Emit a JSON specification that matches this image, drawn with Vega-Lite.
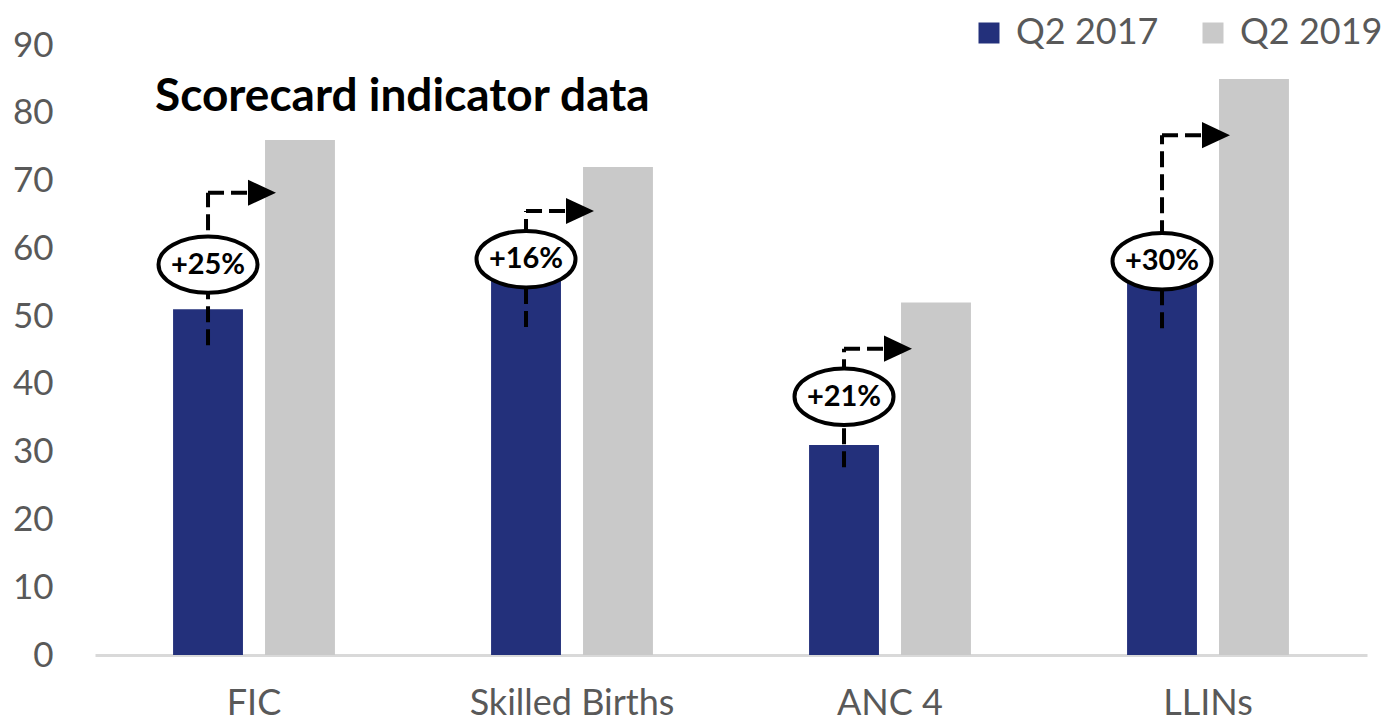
{
  "$schema": "https://vega.github.io/schema/vega-lite/v6.json",
  "width": 1272,
  "height": 610,
  "autosize": {"type": "none"},
  "padding": {"left": 95, "top": 45, "right": 14, "bottom": 69},
  "background": "white",
  "config": {"view": {"stroke": null}, "font": "Lato"},
  "title": {
    "text": "Scorecard indicator data",
    "anchor": "start",
    "frame": "group",
    "dx": 60,
    "dy": 110,
    "fontSize": 46,
    "fontWeight": "bold",
    "color": "black",
    "font": "Lato"
  },
  "datasets": {
    "bars": [
      {"indicator": "FIC", "period": "Q2 2017", "value": 51},
      {"indicator": "FIC", "period": "Q2 2019", "value": 76},
      {"indicator": "Skilled Births", "period": "Q2 2017", "value": 56},
      {"indicator": "Skilled Births", "period": "Q2 2019", "value": 72},
      {"indicator": "ANC 4", "period": "Q2 2017", "value": 31},
      {"indicator": "ANC 4", "period": "Q2 2019", "value": 52},
      {"indicator": "LLINs", "period": "Q2 2017", "value": 55},
      {"indicator": "LLINs", "period": "Q2 2019", "value": 85}
    ],
    "notes": [
      {"indicator": "FIC", "change": "+25%", "low": 45.7, "high": 68.2, "badge": 57.6},
      {"indicator": "Skilled Births", "change": "+16%", "low": 48.4, "high": 65.5, "badge": 58.4},
      {"indicator": "ANC 4", "change": "+21%", "low": 27.7, "high": 45.2, "badge": 38.1},
      {"indicator": "LLINs", "change": "+30%", "low": 48.2, "high": 76.7, "badge": 58.1}
    ]
  },
  "encoding": {
    "x": {
      "field": "indicator",
      "type": "nominal",
      "sort": ["FIC", "Skilled Births", "ANC 4", "LLINs"],
      "scale": {"paddingInner": 0.491, "paddingOuter": 0.2455},
      "axis": {
        "title": null,
        "labelAngle": 0,
        "ticks": false,
        "domainColor": "#d9d9d9",
        "domainWidth": 3,
        "labelFontSize": 36,
        "labelColor": "#595959",
        "labelPadding": 31,
        "labelLimit": 600
      }
    }
  },
  "layer": [
    {
      "data": {"name": "bars"},
      "mark": {"type": "bar"},
      "encoding": {
        "xOffset": {
          "field": "period",
          "type": "nominal",
          "scale": {"paddingInner": 0.24, "paddingOuter": 0}
        },
        "y": {
          "field": "value",
          "type": "quantitative",
          "scale": {"domain": [0, 90], "nice": false},
          "axis": {
            "title": null,
            "values": [0, 10, 20, 30, 40, 50, 60, 70, 80, 90],
            "domain": false,
            "ticks": false,
            "grid": false,
            "labelFontSize": 35,
            "labelColor": "#595959",
            "labelPadding": 42
          }
        },
        "color": {
          "field": "period",
          "type": "nominal",
          "scale": {"range": ["#23307b", "#c9c9c9"]},
          "legend": {
            "title": null,
            "orient": "none",
            "direction": "horizontal",
            "legendX": 876,
            "legendY": -30,
            "symbolType": "square",
            "symbolSize": 441,
            "symbolStrokeWidth": 0,
            "labelFontSize": 36,
            "labelColor": "#595959",
            "labelOffset": 9,
            "columnPadding": 36
          }
        }
      }
    },
    {
      "data": {"name": "notes"},
      "mark": {"type": "rule", "color": "black", "strokeWidth": 4, "strokeDash": [16, 7]},
      "encoding": {
        "xOffset": {"datum": "Q2 2017"},
        "y": {"field": "low", "type": "quantitative"},
        "y2": {"field": "high"}
      }
    },
    {
      "data": {"name": "notes"},
      "mark": {"type": "rule", "color": "black", "strokeWidth": 4, "strokeDash": [16, 7], "x2Offset": 8},
      "encoding": {
        "xOffset": {"datum": "Q2 2017"},
        "x2": {"field": "indicator"},
        "y": {"field": "high", "type": "quantitative"}
      }
    },
    {
      "data": {"name": "notes"},
      "mark": {
        "type": "point",
        "shape": "M-1,-0.93L1,0L-1,0.93Z",
        "size": 784,
        "filled": true,
        "color": "black",
        "opacity": 1,
        "xOffset": 8
      },
      "encoding": {
        "y": {"field": "high", "type": "quantitative"}
      }
    },
    {
      "data": {"name": "notes"},
      "mark": {
        "type": "point",
        "shape": "M-1,0A1,0.57 0 1,1 1,0A1,0.57 0 1,1 -1,0Z",
        "size": 9800,
        "fill": "white",
        "stroke": "black",
        "strokeWidth": 4,
        "opacity": 1,
        "fillOpacity": 1
      },
      "encoding": {
        "xOffset": {"datum": "Q2 2017"},
        "y": {"field": "badge", "type": "quantitative"}
      }
    },
    {
      "data": {"name": "notes"},
      "mark": {"type": "text", "fontSize": 29, "fontWeight": "bold", "color": "black", "baseline": "middle", "align": "center"},
      "encoding": {
        "xOffset": {"datum": "Q2 2017"},
        "y": {"field": "badge", "type": "quantitative"},
        "text": {"field": "change"}
      }
    }
  ]
}
